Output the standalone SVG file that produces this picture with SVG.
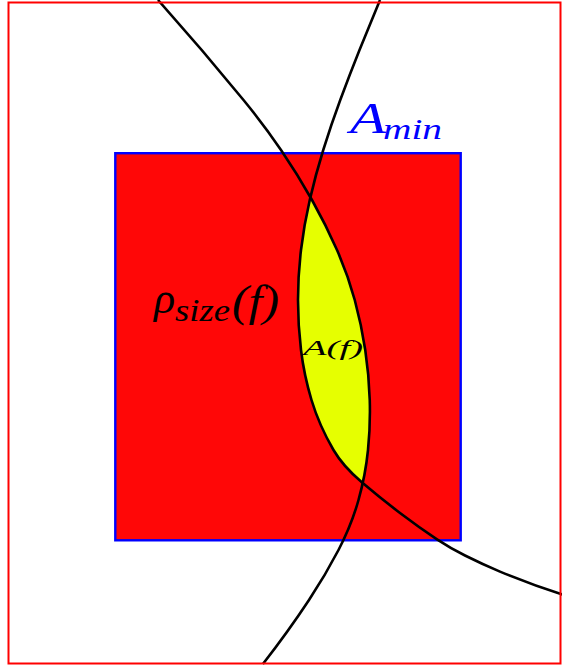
<svg xmlns="http://www.w3.org/2000/svg" width="562" height="667" viewBox="0 0 562 667">
<style>
.curve{fill:none;stroke:#000;stroke-width:2.6}
</style>
<defs>
<clipPath id="leftOfA">
<path d="M158,0 C187.67,33.33 216.17,66.67 243.5,100 C257.17,116.67 269.67,133.33 281,150 C292.33,166.67 302.67,183.33 312,200 C321.33,216.67 329.67,233.33 337,250 C344.33,266.67 350.25,283.33 354.75,300 C359.25,316.67 362.75,333.33 365.25,350 C367.75,366.67 369.25,383.33 369.75,400 C370.25,416.67 369.67,433.33 368,450 C366.33,466.67 363.17,483.33 358.5,500 C353.83,516.67 347.17,533.33 338.5,550 C329.83,566.67 320,583.33 309,600 C294.92,621.33 279.54,642.67 262.9,664 L0,667 L0,0 Z"/>
</clipPath>
<clipPath id="rightOfB">
<path d="M380,0 C373,16.67 366.17,33.33 359.5,50 C352.83,66.67 346.42,83.33 340.25,100 C334.08,116.67 328.42,133.33 323.25,150 C318.08,166.67 313.58,183.33 309.75,200 C305.92,216.67 303,233.33 301,250 C299,266.67 298,283.33 298,300 C298,316.67 299,333.33 301,350 C303,366.67 306.5,383.33 311.5,400 C316.5,416.67 323.83,433.33 333.5,450 C339.78,460.83 349.32,471.67 362.1,482.5 C374.73,493.24 387.37,503.4 400,513 C412.33,522.37 424.67,531.16 437,539.3 C446.33,545.46 455.67,550.83 465,555.5 C476.67,561.33 488.33,566.7 500,571.6 C521,580.42 542,588.09 563,594.6 L600,600 L600,0 Z"/>
</clipPath>
</defs>
<rect x="0" y="0" width="562" height="667" fill="#fff"/>
<g id="square">
<rect x="115.3" y="153.2" width="345.4" height="387.1" fill="#ff0707" stroke="#0000ff" stroke-width="2.4"/>
</g>
<g id="lens" clip-path="url(#leftOfA)">
<rect x="280" y="180" width="110" height="320" fill="#e6ff00" clip-path="url(#rightOfB)"/>
</g>
<g id="connectors">
<path class="curve" d="M158,0 C187.67,33.33 216.17,66.67 243.5,100 C257.17,116.67 269.67,133.33 281,150 C292.33,166.67 302.67,183.33 312,200 C321.33,216.67 329.67,233.33 337,250 C344.33,266.67 350.25,283.33 354.75,300 C359.25,316.67 362.75,333.33 365.25,350 C367.75,366.67 369.25,383.33 369.75,400 C370.25,416.67 369.67,433.33 368,450 C366.33,466.67 363.17,483.33 358.5,500 C353.83,516.67 347.17,533.33 338.5,550 C329.83,566.67 320,583.33 309,600 C294.92,621.33 279.54,642.67 262.9,664"/>
<path class="curve" d="M380,0 C373,16.67 366.17,33.33 359.5,50 C352.83,66.67 346.42,83.33 340.25,100 C334.08,116.67 328.42,133.33 323.25,150 C318.08,166.67 313.58,183.33 309.75,200 C305.92,216.67 303,233.33 301,250 C299,266.67 298,283.33 298,300 C298,316.67 299,333.33 301,350 C303,366.67 306.5,383.33 311.5,400 C316.5,416.67 323.83,433.33 333.5,450 C339.78,460.83 349.32,471.67 362.1,482.5 C374.73,493.24 387.37,503.4 400,513 C412.33,522.37 424.67,531.16 437,539.3 C446.33,545.46 455.67,550.83 465,555.5 C476.67,561.33 488.33,566.7 500,571.6 C521,580.42 542,588.09 563,594.6"/>
</g>
<g id="frame">
<rect x="8.5" y="2.5" width="552" height="661" fill="none" stroke="#ff0000" stroke-width="2"/>
</g>
<g id="label-amin" font-family="Liberation Serif, serif" font-style="italic" fill="#0000ff">
<text x="350" y="133" font-size="44" textLength="36" lengthAdjust="spacingAndGlyphs">A</text>
<text x="383" y="138.5" font-size="30" textLength="59" lengthAdjust="spacingAndGlyphs">min</text>
</g>
<g id="label-rho" font-family="Liberation Serif, serif" font-style="italic" fill="#000">
<text x="154" y="313" font-size="44">ρ</text>
<text x="175" y="321" font-size="31" textLength="55" lengthAdjust="spacingAndGlyphs">size</text>
<text x="232" y="316" font-size="44" textLength="47" lengthAdjust="spacingAndGlyphs">(f)</text>
</g>
<g id="label-af" font-family="Liberation Serif, serif" font-style="italic" fill="#000">
<text x="303" y="355" font-size="22" textLength="60" lengthAdjust="spacingAndGlyphs">A(f)</text>
</g>
</svg>
